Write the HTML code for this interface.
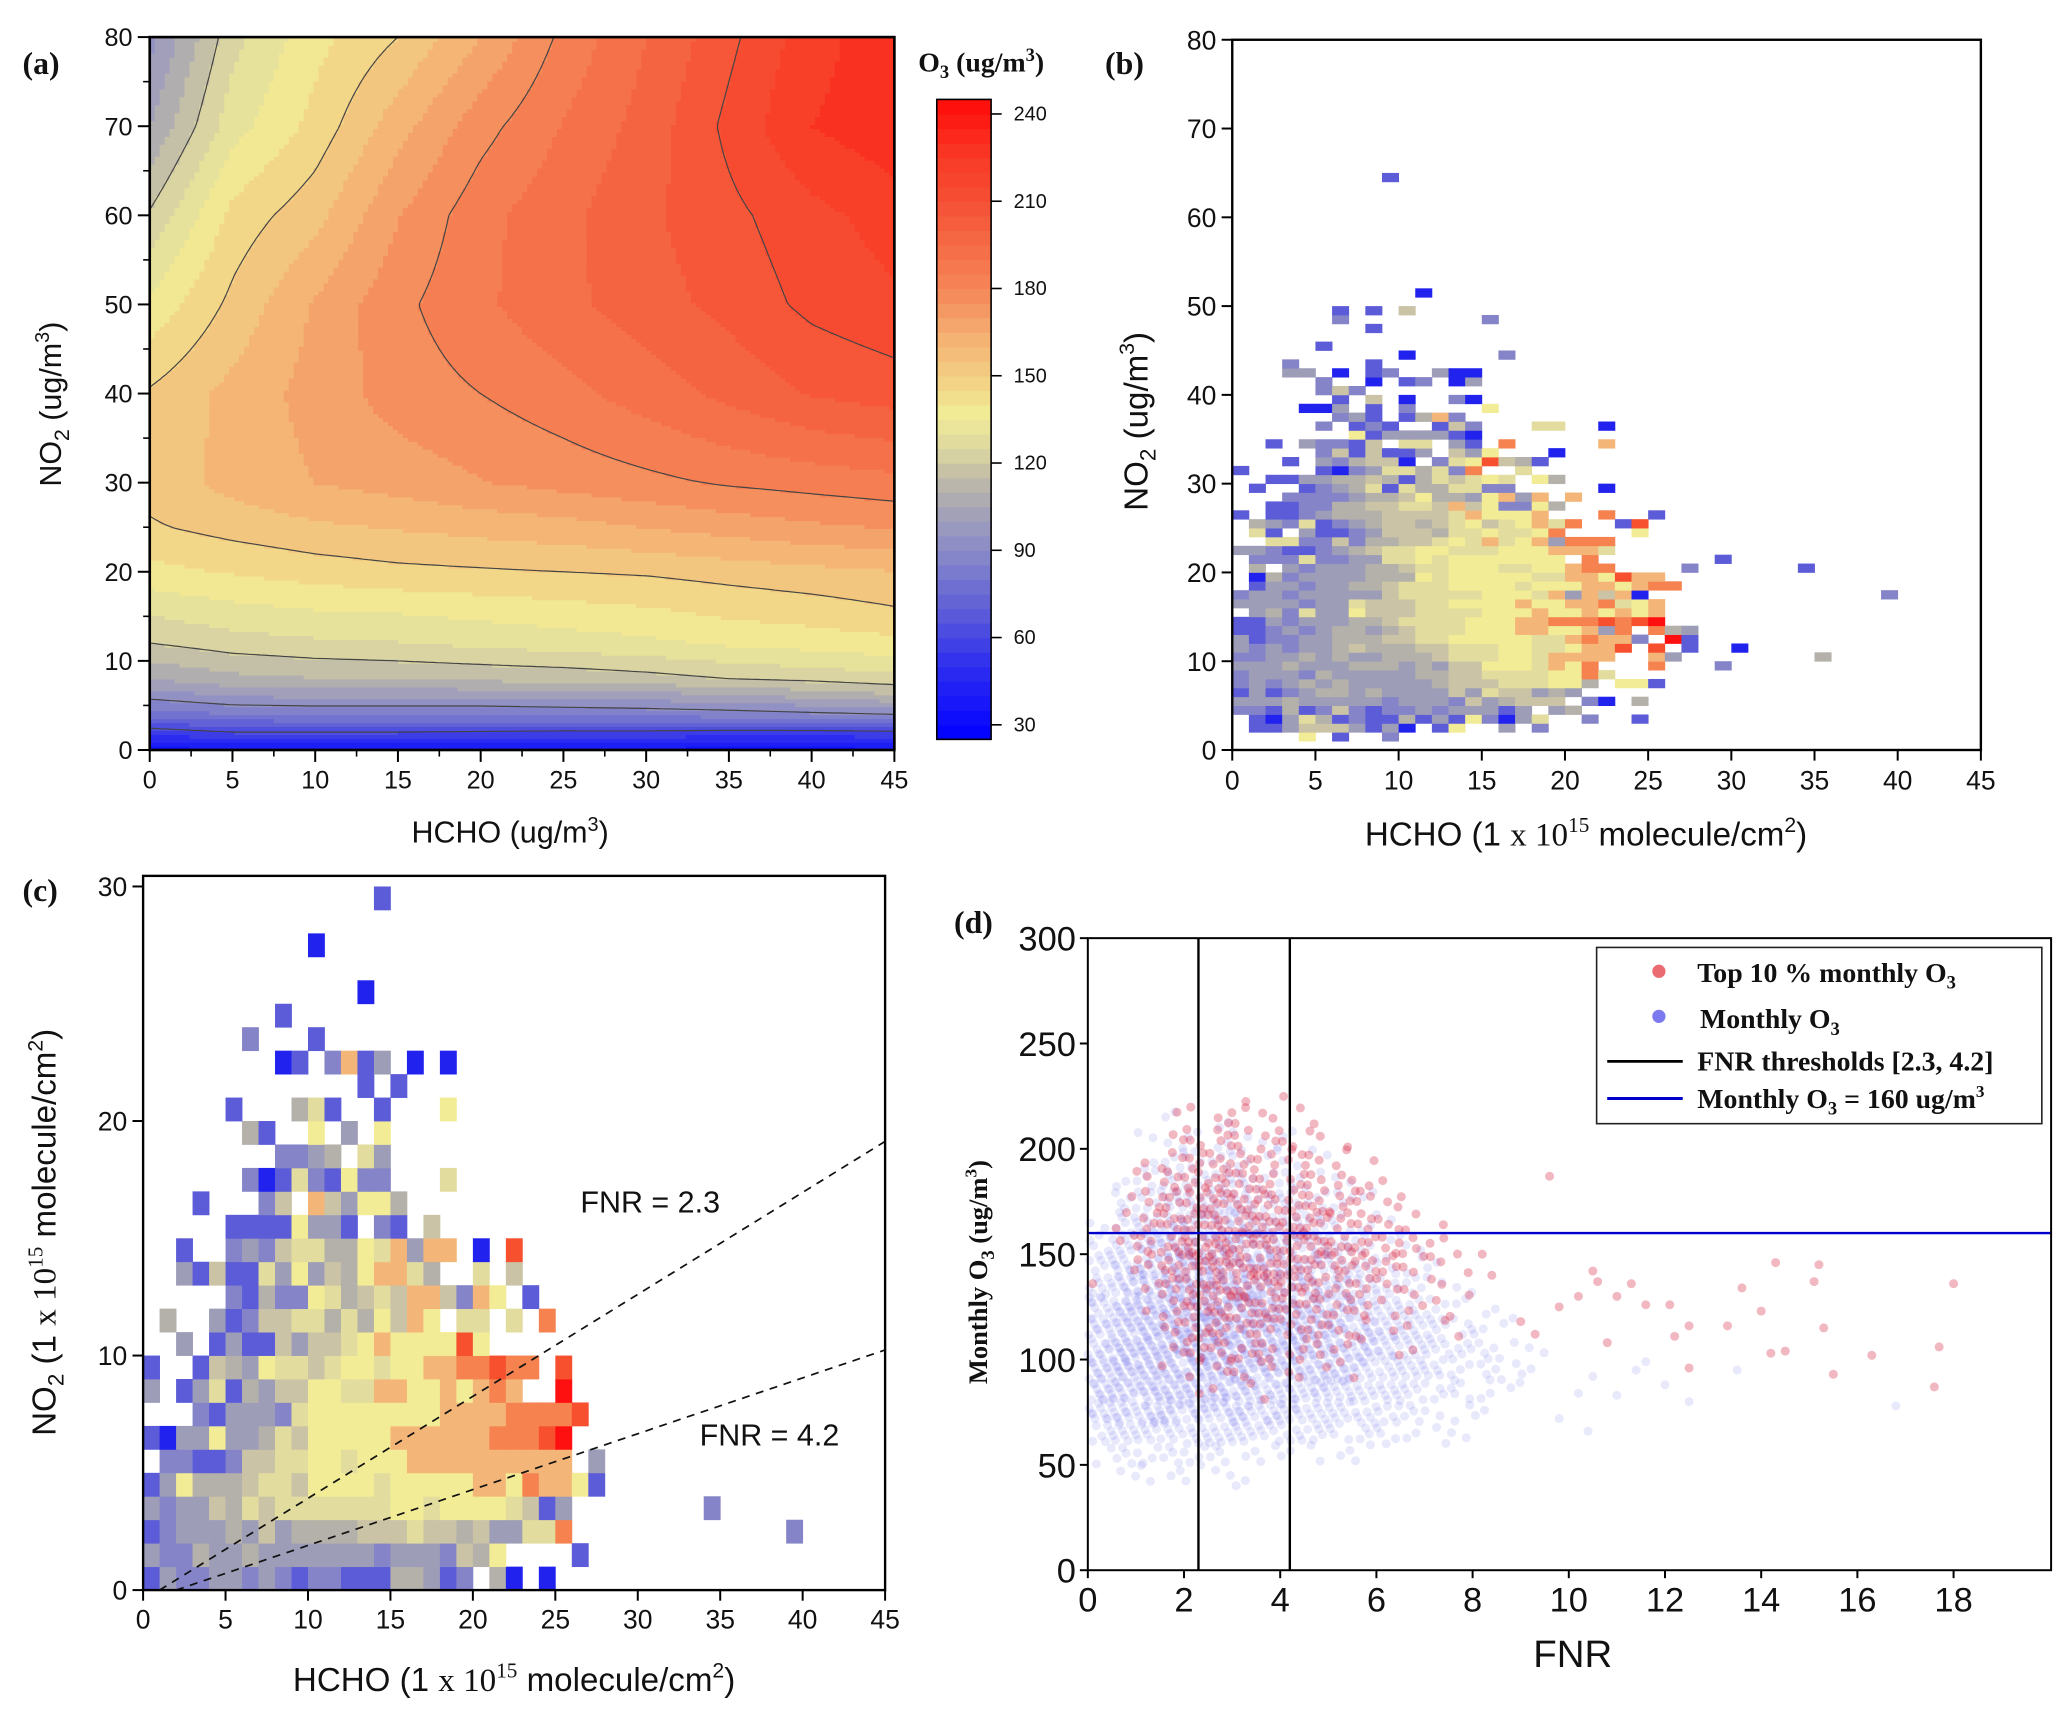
<!DOCTYPE html>
<html><head><meta charset="utf-8">
<style>
html,body{margin:0;padding:0;background:#fff;}
svg{display:block;}
.t{font-family:"Liberation Sans","DejaVu Sans",sans-serif;fill:#111;}
.s{font-family:"Liberation Serif",serif;font-weight:bold;fill:#111;}
</style></head>
<body>
<svg id="fig" xmlns="http://www.w3.org/2000/svg" width="2067" height="1712" viewBox="0 0 1560 1292" preserveAspectRatio="none">
<rect x="0" y="0" width="1560" height="1292" fill="#fff"/>
<g id="pa"></g>
<g id="pb"></g>
<g id="pc"></g>
<g id="pd"></g>

<text class="s" x="17" y="56" font-size="24">(a)</text>
<text class="s" x="834" y="56" font-size="24">(b)</text>
<text class="s" x="17" y="680" font-size="24">(c)</text>
<text class="s" x="720" y="704" font-size="24">(d)</text>

<text class="t" x="385" y="636" font-size="23" text-anchor="middle">HCHO (ug/m<tspan font-size="15" dy="-9">3</tspan><tspan dy="9">)</tspan></text>
<text class="t" transform="translate(46,305) rotate(-90)" font-size="23" text-anchor="middle">NO<tspan font-size="16" dy="6">2</tspan><tspan dy="-6"> (ug/m</tspan><tspan font-size="15" dy="-9">3</tspan><tspan dy="9">)</tspan></text>
<text class="s" x="693" y="54" font-size="21">O<tspan font-size="14" dy="5">3</tspan><tspan dy="-5"> (ug/m</tspan><tspan font-size="14" dy="-8">3</tspan><tspan dy="8">)</tspan></text>

<text class="t" x="1197" y="638" font-size="25" text-anchor="middle">HCHO (1 <tspan font-family="Liberation Serif">x 10</tspan><tspan font-family="Liberation Serif" font-size="16" dy="-10">15</tspan><tspan dy="10"> molecule/cm</tspan><tspan font-size="16" dy="-10">2</tspan><tspan dy="10">)</tspan></text>
<text class="t" transform="translate(866,318) rotate(-90)" font-size="25" text-anchor="middle">NO<tspan font-size="17" dy="6">2</tspan><tspan dy="-6"> (ug/m</tspan><tspan font-size="16" dy="-10">3</tspan><tspan dy="10">)</tspan></text>

<text class="t" x="388" y="1276" font-size="25" text-anchor="middle">HCHO (1 <tspan font-family="Liberation Serif">x 10</tspan><tspan font-family="Liberation Serif" font-size="16" dy="-10">15</tspan><tspan dy="10"> molecule/cm</tspan><tspan font-size="16" dy="-10">2</tspan><tspan dy="10">)</tspan></text>
<text class="t" transform="translate(42,930) rotate(-90)" font-size="25" text-anchor="middle">NO<tspan font-size="17" dy="6">2</tspan><tspan dy="-6"> (1 </tspan><tspan font-family="Liberation Serif">x 10</tspan><tspan font-family="Liberation Serif" font-size="16" dy="-10">15</tspan><tspan dy="10"> molecule/cm</tspan><tspan font-size="16" dy="-10">2</tspan><tspan dy="10">)</tspan></text>
<text class="t" x="438" y="915" font-size="23">FNR = 2.3</text>
<text class="t" x="528" y="1091" font-size="23">FNR = 4.2</text>

<text class="t" x="1187" y="1258" font-size="29" text-anchor="middle">FNR</text>
<text class="s" transform="translate(745,960) rotate(-90)" font-size="20" text-anchor="middle">Monthly O<tspan font-size="14" dy="5">3</tspan><tspan dy="-5"> (ug/m</tspan><tspan font-size="13" dy="-8">3</tspan><tspan dy="8">)</tspan></text>

<g id="legend">
<rect x="1205" y="715" width="336" height="133" fill="#fff" stroke="#222" stroke-width="1.2"/>
<circle cx="1252" cy="733" r="5" fill="rgba(230,70,80,0.8)"/>
<text class="s" x="1281" y="741" font-size="21">Top 10 % monthly O<tspan font-size="14" dy="5">3</tspan></text>
<circle cx="1252" cy="767" r="5" fill="rgba(90,90,235,0.8)"/>
<text class="s" x="1283" y="776" font-size="21">Monthly O<tspan font-size="14" dy="5">3</tspan></text>
<line x1="1213" y1="801" x2="1270" y2="801" stroke="#000" stroke-width="2"/>
<text class="s" x="1281" y="808" font-size="21">FNR thresholds [2.3, 4.2]</text>
<line x1="1213" y1="829" x2="1270" y2="829" stroke="#0000cc" stroke-width="2.2"/>
<text class="s" x="1281" y="836" font-size="21">Monthly O<tspan font-size="14" dy="5">3</tspan><tspan dy="-5"> = 160 ug/m</tspan><tspan font-size="13" dy="-8">3</tspan></text>
</g>
</svg>
<script>
// ================== DATA ==================
const aHcho = [0,5,10,15,20,25,30,35,40,45];
const aNo2 = [0,2,4,6,8,12,15,20,25,30,40,50,60,70,80];
const aO3 = [
 [35,35,35,35,35,35,35,35,35,35],
 [55,60,60,60,59,58,58,57,57,58],
 [78,82,83,83,83,84,85,86,88,90],
 [92,97,98,98,98,99,100,103,106,110],
 [105,110,112,113,114,115,117,120,122,125],
 [120,124,126,127,129,131,133,136,138,140],
 [127,131,133,134,136,138,140,143,145,148],
 [140,143,146,148,149,150,151,153,155,157],
 [149,153,156,158,160,162,165,168,171,173],
 [153,160,165,168,172,175,178,181,183,185],
 [151,160,168,176,180,185,191,197,203,206],
 [137,152,166,178,186,193,199,205,212,216],
 [121,145,155,172,185,193,201,208,215,221],
 [105,132,145,162,177,188,198,212,225,230],
 [95,125,140,150,165,182,195,208,222,230]
];
const aLevels = [60,90,120,150,180,210];
const aXTicks = [0,5,10,15,20,25,30,35,40,45];
const aYTicks = [0,10,20,30,40,50,60,70,80];
const cbTicks = [30,60,90,120,150,180,210,240];

const bRows = {
 1:"....7.1..2",
 2:".1135553130.17..3.2",
 3:".103641211413172036..2..1",
 4:"221412521223233313.34",
 5:"33343333323332534555.20.4",
 6:"131234434333353655343",
 7:"2323434333334555666774.771",
 8:"23332433333445566667796",
 9:"3334333444343557776879...9...2",
 10:"22334343344456667768888..83........4",
 11:"32323345444556667766788A.A.1..0",
 12:"3122334445566777776689882.B1",
 13:"112323443456667778877839.943",
 14:"1132333445666677788999A9AB",
 15:".3426337555666677787787878",
 16:"33332336555667777877889678",
 17:"2332333335666667776838580..............2",
 18:".13323344566677776777887899",
 19:".0423333444767777766887A88",
 20:".4.32333445667776677899....2......1",
 21:".2226223366767777777.9.......1",
 22:"33211234566776667778886",
 23:"..662252445567686783999",
 24:".61.3112355546676679....7",
 25:".43261234554567567869..1A",
 26:"1.11234445555687778...9..1",
 27:"..112244556658572274",
 28:"...2222344574437838.8",
 29:".1..1234616446622.....0",
 30:"..113344541465676.74",
 31:"1....1023664629..6",
 32:"...1.324550.267A541",
 33:".....2515113.537...0",
 34:"..1.32215.66.31.9.....8",
 35:".......71333310",
 36:".....2.121..152...66..0",
 37:"......231.1482",
 38:"....003.1.2....7",
 39:"......1.5.0..20",
 40:".....252",
 41:".....2..0.12.03",
 42:"...33.0.12..300",
 43:"...2....1",
 44:"..........0.....2",
 45:".....1",
 47:"........1",
 48:"......2........2",
 49:"......1.1.5",
 51:"...........0",
 64:".........1"
};
const bXTicks = [0,5,10,15,20,25,30,35,40,45];
const bYTicks = [0,10,20,30,40,50,60,70,80];

const cRows = {
 0:"13223323212211144312.40.0",
 1:"3224334333333323332547....1",
 2:"12333435344445556554533669.............2",
 3:"32335465666666677677776513........2",
 4:"1374445665777767777788798871",
 5:".2211255667767778888888888.3",
 6:"103373346577777888888999AB",
 7:"...21333267777777788889999A",
 8:"3.136143557766887787898..B",
 9:"1..154376656776778899A99.A",
 10:"..3.131153556787777A7",
 11:".4..31255664647587.66.6.9",
 12:".....21422764565885287.1",
 13:"..3151163735478864..6.5",
 14:"..1..23256644768388.0.A",
 15:".....11117331.21.5",
 16:"...1...25.853774",
 17:"......201621722...6",
 18:"........2234.63",
 19:"......41..7.3.7",
 20:".....1...461..1...7",
 21:".............1.1",
 22:"........01.2813.0.0",
 23:"......2...1",
 24:"........1",
 25:".............0",
 27:"..........0",
 29:"..............1"
};
const cXTicks = [0,5,10,15,20,25,30,35,40,45];
const cYTicks = [0,10,20,30];
const fnrThresholds = [2.3,4.2];

const dBlueTop = 220;
const dBlue = [
 "00000000000000000000",
 "00010100000000000000",
 "00111111100000000000",
 "00122221110000000000",
 "01233332211000000000",
 "02344443322100000000",
 "13455554432110000000",
 "24566665543211000000",
 "35677776554321100000",
 "46788887665432110000",
 "57899998776543211000",
 "67899998877654321100",
 "68899998877654332110",
 "68888887766544322110",
 "67777776655443221100",
 "56666665544332111000",
 "34444443332221110000",
 "12222211111100000000",
 "01111110000000000000"
];
const dRedTop = 230;
const dRed = [
 "0000001010000000",
 "0001132211000000",
 "0002343322100000",
 "0013454433210000",
 "0024565544321000",
 "0135676655432100",
 "0246787766543210",
 "0246898877654321",
 "0136898877654321",
 "0025787766543221",
 "0014676655432211",
 "0003565544321111",
 "0002454433211100",
 "0001232221110000",
 "0000111100000000"
];
const dRedFnr = [0.1,9.6,10.5,11.3,11.6,12.1,12.2,12.5,13.3,13.6,14.0,14.3,14.2,14.5,15.1,15.2,15.3,15.5,16.3,17.6,17.7,18.0,11.0,10.2,10.8,12.5,9.8,10.6,8.2,8.4,9.0,9.3];
const dRedO3  = [136,187,142,136,126,126,111,116,116,134,123,146,103,104,137,145,115,93,102,87,106,136,130,130,108,96,125,137,150,140,118,112];
const dBlueFnr = [11.4,12.0,12.5,13.5,16.8,11.6,10.5,10.2,11.0,9.8,10.4];
const dBlueO3  = [95,88,80,95,78,99,92,84,83,72,66];
const dXTicks = [0,2,4,6,8,10,12,14,16,18];
const dYTicks = [0,50,100,150,200,250,300];
const dHLine = 160;

// ================== HELPERS ==================
const NS = "http://www.w3.org/2000/svg";
function mk(tag, attrs, parent){
  const e = document.createElementNS(NS, tag);
  for (const k in attrs) e.setAttribute(k, attrs[k]);
  parent.appendChild(e);
  return e;
}
const cStops = [[25,[0,0,255]],[30,[10,10,255]],[50,[45,45,240]],[70,[95,95,215]],[90,[138,138,200]],[105,[168,166,180]],[115,[192,187,168]],[125,[220,216,160]],[137,[242,236,150]],[150,[243,206,132]],[165,[244,172,112]],[180,[245,134,88]],[195,[245,106,69]],[210,[246,80,53]],[225,[248,58,37]],[245,[255,10,10]]];
function cmap(v){
  if (v<=cStops[0][0]) return 'rgb('+cStops[0][1]+')';
  for (let i=1;i<cStops.length;i++){
    if (v<=cStops[i][0]){
      const a=cStops[i-1], b=cStops[i], t=(v-a[0])/(b[0]-a[0]);
      return 'rgb('+[0,1,2].map(j=>Math.round(a[1][j]+(b[1][j]-a[1][j])*t)).join(',')+')';
    }
  }
  return 'rgb('+cStops[cStops.length-1][1]+')';
}
const classColor = {'0':'#2222ee','1':'#5c5cd8','2':'#8584c8','3':'#9e9db8','4':'#b4b0aa','5':'#cac3a6','6':'#e2dd9e','7':'#f3ec96','8':'#f4b678','9':'#f5824f','A':'#f6502f','B':'#ff1010'};

function axisTicks(g, name, ticks, pos, horizontal, fixed, len, fsize, labelOff, minor){
  ticks.forEach(v=>{
    const p = pos(v);
    let l;
    if (horizontal){
      l = mk('line',{x1:p,y1:fixed,x2:p,y2:fixed+len,stroke:'#000','stroke-width':1.5},g);
      
      
      const t = mk('text',{x:p,y:fixed+labelOff,'font-size':fsize,'text-anchor':'middle','class':'t'},g);
      t.textContent = v;
      
      
    } else {
      l = mk('line',{x1:fixed,y1:p,x2:fixed-len,y2:p,stroke:'#000','stroke-width':1.5},g);
      
      
      const t = mk('text',{x:fixed-labelOff,y:p+fsize*0.36,'font-size':fsize,'text-anchor':'end','class':'t'},g);
      t.textContent = v;
      
      
    }
  });
  if (minor){
    for (let i=0;i<ticks.length-1;i++){
      const p = pos((ticks[i]+ticks[i+1])/2);
      let l;
      if (horizontal) l = mk('line',{x1:p,y1:fixed,x2:p,y2:fixed+len*0.55,stroke:'#000','stroke-width':1.2},g);
      else l = mk('line',{x1:fixed,y1:p,x2:fixed-len*0.55,y2:p,stroke:'#000','stroke-width':1.2},g);
      
      
    }
  }
}
function frame(g, name, x0,y0,x1,y1, w){
  const r = mk('rect',{x:x0,y:y0,width:x1-x0,height:y1-y0,fill:'none',stroke:'#000','stroke-width':w||1.8},g);
  
  
}

// ================== PANEL A ==================
(function(){
  const g = document.getElementById('pa');
  const X0=113,X1=675,Y0=566,Y1=28;
  const xa = h => X0 + h*(X1-X0)/45;
  const ya = n => Y0 - n*(Y0-Y1)/80;
  function interp(arr, v){
    for (let i=0;i<arr.length-1;i++){ if (v<=arr[i+1]) return [i,(v-arr[i])/(arr[i+1]-arr[i])]; }
    return [arr.length-2,1];
  }
  function val(h,n){
    const [i,ti]=interp(aHcho,h), [j,tj]=interp(aNo2,n);
    const a=aO3[j][i], b=aO3[j][i+1], c=aO3[j+1][i], d=aO3[j+1][i+1];
    return (a*(1-ti)+b*ti)*(1-tj)+(c*(1-ti)+d*ti)*tj;
  }
  const NX=150, NY=180;
  const dh=45/NX, dn=80/NY;
  const fill = mk('g',{},g);
  
  
  const step=7.5;
  for (let j=0;j<NY;j++){
    let start=0, prevQ=null;
    const n=(j+0.5)*dn;
    for (let i=0;i<=NX;i++){
      const q = i<NX ? Math.floor(val((i+0.5)*dh,n)/step) : null;
      if (i===0){prevQ=q;continue;}
      if (q!==prevQ){
        mk('rect',{x:xa(start*dh),y:ya((j+1)*dn),width:xa(i*dh)-xa(start*dh)+0.6,height:ya(j*dn)-ya((j+1)*dn)+0.6,fill:cmap((prevQ+0.5)*step)},fill);
        start=i; prevQ=q;
      }
    }
  }
  const grid=[];
  for (let j=0;j<=NY;j++){grid.push([]);for(let i=0;i<=NX;i++)grid[j].push(val(i*dh,j*dn));}
  aLevels.forEach(L=>{
    let d='';
    for (let j=0;j<NY;j++) for (let i=0;i<NX;i++){
      const v=[grid[j][i],grid[j][i+1],grid[j+1][i+1],grid[j+1][i]];
      const pts=[[i,j],[i+1,j],[i+1,j+1],[i,j+1]];
      const cr=[];
      for (let k=0;k<4;k++){
        const a=v[k], b=v[(k+1)%4];
        if ((a<L)!==(b<L)){
          const t=(L-a)/(b-a), p=pts[k], q=pts[(k+1)%4];
          cr.push([p[0]+(q[0]-p[0])*t, p[1]+(q[1]-p[1])*t]);
        }
      }
      for (let k=0;k+1<cr.length;k+=2){
        d+='M'+xa(cr[k][0]*dh).toFixed(1)+','+ya(cr[k][1]*dn).toFixed(1)+'L'+xa(cr[k+1][0]*dh).toFixed(1)+','+ya(cr[k+1][1]*dn).toFixed(1);
      }
    }
    const p = mk('path',{d:d,stroke:'#444','stroke-width':0.9,fill:'none'},g);
    
    
  });
  frame(g,'panel-a-frame',X0,Y1,X1,Y0,2);
  axisTicks(g,'panel-a-x-axis',aXTicks,xa,true,Y0,9,19,29,true);
  axisTicks(g,'panel-a-y-axis',aYTicks,ya,false,X0,9,19,13,true);
  const CB0=707, CB1=748;
  const yc = v => 547 - (v-30)*(547-86)/210;
  const cb = mk('g',{},g);
  
  
  for (let v=25; v<245; v+=5){
    mk('rect',{x:CB0,y:yc(v+5),width:CB1-CB0,height:yc(v)-yc(v+5)+0.5,fill:cmap(v+2.5)},cb);
  }
  frame(cb,'colorbar-frame',CB0,yc(245),CB1,yc(25),1.2);
  cbTicks.forEach(v=>{
    const l=mk('line',{x1:CB1,y1:yc(v),x2:CB1+8,y2:yc(v),stroke:'#000','stroke-width':1.2},cb);
    
    
    const t=mk('text',{x:CB1+17,y:yc(v)+5,'font-size':15,'class':'t'},cb);
    t.textContent=v;
    
    
  });
})();

// ================== PANEL B ==================
(function(){
  const g = document.getElementById('pb');
  const X0=930,X1=1495,Y0=566,Y1=30;
  const xb = h => X0 + h*(X1-X0)/45;
  const yb = n => Y0 - n*(Y0-Y1)/80;
  for (const r in bRows){
    const s=bRows[r];
    for (let c=0;c<s.length;c++){
      const ch=s[c]; if (!classColor[ch]) continue;
      const rc = mk('rect',{x:xb(c),y:yb(+r+1),width:xb(c+1)-xb(c)+0.3,height:yb(+r)-yb(+r+1)+0.3,fill:classColor[ch]},g);
      
      
    }
  }
  frame(g,'panel-b-frame',X0,Y1,X1,Y0,1.8);
  axisTicks(g,'panel-b-x-axis',bXTicks,xb,true,Y0,8,20,30,false);
  axisTicks(g,'panel-b-y-axis',bYTicks,yb,false,X0,8,20,12,false);
})();

// ================== PANEL C ==================
(function(){
  const g = document.getElementById('pc');
  const X0=108,X1=668,Y0=1200,Y1=661;
  const xc = h => X0 + h*(X1-X0)/45;
  const yc = n => Y0 - n*17.7;
  for (const r in cRows){
    const s=cRows[r];
    for (let c=0;c<s.length;c++){
      const ch=s[c]; if (!classColor[ch]) continue;
      const rc = mk('rect',{x:xc(c),y:yc(+r+1),width:xc(c+1)-xc(c)+0.3,height:yc(+r)-yc(+r+1)+0.3,fill:classColor[ch]},g);
      
      
    }
  }
  const offs=[1,2];
  fnrThresholds.forEach((f,i)=>{
    const l = mk('line',{x1:xc(offs[i]),y1:yc(0),x2:xc(45),y2:yc((45-offs[i])/f),stroke:'#111','stroke-width':1.3,'stroke-dasharray':'6,5'},g);
    
    
  });
  frame(g,'panel-c-frame',X0,Y1,X1,Y0,1.8);
  axisTicks(g,'panel-c-x-axis',cXTicks,xc,true,Y0,8,20,29,false);
  axisTicks(g,'panel-c-y-axis',cYTicks,yc,false,X0,8,20,12,false);
})();

// ================== PANEL D ==================
(function(){
  const g = document.getElementById('pd');
  const X0=821,X1=1548,Y0=1185,Y1=708;
  const xd = f => X0 + f*36.3;
  const yd = o => Y0 - o*(Y0-Y1)/300;
  const phi1=0.6180339887, phi2=0.7548776662, phi3=0.5698402910;
  const blue = mk('g',{fill:'rgba(85,85,235,0.13)'},g);
  
  
  let k=0;
  dBlue.forEach((row,ri)=>{
    const top=dBlueTop-ri*10;
    for (let c=0;c<row.length;c++){
      const n=(+row[c])*2;
      for (let m=0;m<n;m++){
        k++;
        const fx=c*0.5+((k*phi1)%1)*0.5, fy=top+((k*phi2)%1)*10;
        mk('circle',{cx:xd(fx),cy:yd(fy),r:3.4},blue);
      }
    }
  });
  dBlueFnr.forEach((f,i)=>{
    const p=mk('circle',{cx:xd(f),cy:yd(dBlueO3[i]),r:3.4},blue);
    
    
  });
  const red = mk('g',{fill:'rgba(215,40,70,0.33)'},g);
  
  
  k=0;
  dRed.forEach((row,ri)=>{
    const top=dRedTop-ri*10;
    for (let c=0;c<row.length;c++){
      const n=(+row[c]);
      for (let m=0;m<n;m++){
        k++;
        const fx=c*0.5+((k*phi3)%1)*0.5, fy=top-((k*phi2)%1)*10;
        mk('circle',{cx:xd(fx),cy:yd(fy),r:3.4},red);
      }
    }
  });
  dRedFnr.forEach((f,i)=>{
    const p=mk('circle',{cx:xd(f),cy:yd(dRedO3[i]),r:3.4},red);
    
    
  });
  fnrThresholds.forEach(f=>{
    const l=mk('line',{x1:xd(f),y1:Y1,x2:xd(f),y2:Y0,stroke:'#000','stroke-width':1.8},g);
    
    
  });
  const h=mk('line',{x1:X0,y1:yd(dHLine),x2:X1,y2:yd(dHLine),stroke:'#0000cc','stroke-width':1.8},g);
  
  
  frame(g,'panel-d-frame',X0,Y1,X1,Y0,1.5);
  axisTicks(g,'panel-d-x-axis',dXTicks,xd,true,Y0,6,26,31,false);
  axisTicks(g,'panel-d-y-axis',dYTicks,yd,false,X0,6,26,9,false);
  g.appendChild(document.getElementById('legend'));
})();
</script>
</body></html>
